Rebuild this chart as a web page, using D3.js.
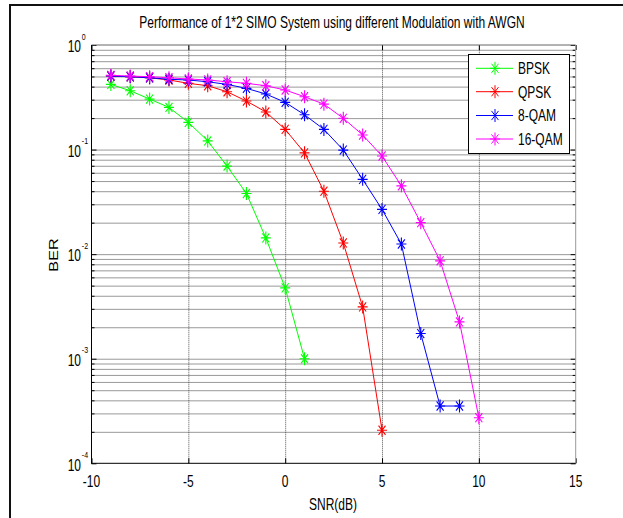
<!DOCTYPE html>
<html><head><meta charset="utf-8">
<script src="https://cdn.jsdelivr.net/npm/d3@7"></script>
<style>body{margin:0;background:#fff} svg{display:block}</style>
</head><body><svg id="c" width="623" height="518"></svg>
<script>
// ---- data ----
const snrBPSK  = [-9,-8,-7,-6,-5,-4,-3,-2,-1,0,1];
const berBPSK  = [0.42,0.365,0.304,0.253,0.182,0.121,0.0695,0.038,0.0143,0.00476,0.001];
const snrQPSK  = [-9,-8,-7,-6,-5,-4,-3,-2,-1,0,1,2,3,4,5];
const berQPSK  = [0.505,0.497,0.486,0.463,0.43,0.408,0.357,0.291,0.229,0.156,0.093,0.040,0.0128,0.00313,0.000207];
const snrQAM8  = [-9,-8,-7,-6,-5,-4,-3,-2,-1,0,1,2,3,4,5,6,7,8,9];
const berQAM8  = [0.505,0.497,0.486,0.47,0.463,0.445,0.42,0.385,0.34,0.283,0.215,0.156,0.0989,0.0519,0.0268,0.0125,0.00174,0.000353,0.000353];
const snrQAM16 = [-9,-8,-7,-6,-5,-4,-3,-2,-1,0,1,2,3,4,5,6,7,8,9,10];
const berQAM16 = [0.513,0.505,0.497,0.486,0.473,0.463,0.445,0.43,0.408,0.371,0.32,0.272,0.199,0.138,0.0867,0.045,0.020,0.00863,0.00225,0.000273];
const seriesNames  = ["BPSK","QPSK","8-QAM","16-QAM"];
const seriesColors = ["#00ff00","#ff0000","#0000ff","#ff00ff"];
const xTicks = [-10,-5,0,5,10,15];
const yExponents = [-4,-3,-2,-1,0];
const titleText = "Performance of 1*2 SIMO System using different Modulation with AWGN";
const xLabelText = "SNR(dB)";
const yLabelText = "BER";

// ---- layout ----
const svg = d3.select("#c");
const L=91.5, R=575.7, T=45, B=463.3;
const SY = 1.35; // vertical text stretch
const FONT = "Arial, 'Liberation Sans', Helvetica, sans-serif";
const x = d3.scaleLinear().domain([-10,15]).range([L,R]);
const y = d3.scaleLog().domain([1e-4,1]).range([B,T]);

const majorY = yExponents.map(e=>Math.pow(10,e));
const minorY = [];
yExponents.slice(0,-1).forEach(e=>{ for(let k=2;k<=9;k++) minorY.push(k*Math.pow(10,e)); });

// figure border (left + top)
svg.append("line").attr("x1",10).attr("x2",10).attr("y1",4).attr("y2",518).attr("stroke","#111").attr("stroke-width",2);
svg.append("line").attr("x1",9).attr("x2",623).attr("y1",5).attr("y2",5).attr("stroke","#111").attr("stroke-width",2);

// grid
const grid = svg.append("g");
grid.append("g").attr("transform",`translate(0,${B})`)
  .call(d3.axisBottom(x).tickValues(xTicks.slice(1,-1)).tickSize(-(B-T)).tickFormat(""))
  .call(g=>{g.select(".domain").remove(); g.selectAll("line").attr("stroke","#555").attr("stroke-dasharray","1,1");});
grid.append("g").attr("transform",`translate(${L},0)`)
  .call(d3.axisLeft(y).tickValues(minorY.concat(majorY.slice(1,-1))).tickSize(-(R-L)).tickFormat(""))
  .call(g=>{g.select(".domain").remove(); g.selectAll("line").attr("stroke","#333").attr("stroke-dasharray","1,1");});

// ticks (inside, mirrored)
function tickStyle(g){ g.select(".domain").remove(); g.selectAll("line").attr("stroke","#000"); }
svg.append("g").attr("transform",`translate(0,${B})`).call(d3.axisBottom(x).tickValues(xTicks).tickSize(-5).tickFormat("")).call(tickStyle);
svg.append("g").attr("transform",`translate(0,${T})`).call(d3.axisTop(x).tickValues(xTicks).tickSize(-5).tickFormat("")).call(tickStyle);
svg.append("g").attr("transform",`translate(${L},0)`).call(d3.axisLeft(y).tickValues(majorY).tickSize(-5).tickFormat("")).call(tickStyle);
svg.append("g").attr("transform",`translate(${L},0)`).call(d3.axisLeft(y).tickValues(minorY).tickSize(-3).tickFormat("")).call(tickStyle);
svg.append("g").attr("transform",`translate(${R},0)`).call(d3.axisRight(y).tickValues(majorY).tickSize(-5).tickFormat("")).call(tickStyle);
svg.append("g").attr("transform",`translate(${R},0)`).call(d3.axisRight(y).tickValues(minorY).tickSize(-3).tickFormat("")).call(tickStyle);

// axes box
svg.append("line").attr("x1",L).attr("x2",R).attr("y1",T).attr("y2",T).attr("stroke","#666");
svg.append("line").attr("x1",R).attr("x2",R).attr("y1",T).attr("y2",B).attr("stroke","#999");
svg.append("line").attr("x1",L).attr("x2",L).attr("y1",T).attr("y2",B+0.5).attr("stroke","#000");
svg.append("line").attr("x1",L).attr("x2",R).attr("y1",B).attr("y2",B).attr("stroke","#000");

function txt(parent, s, px, py, size, anchor, sx, sy){
  return parent.append("text").attr("transform",`translate(${px},${py}) scale(${sx||1},${sy||SY})`)
    .attr("font-family",FONT).attr("font-size",size).attr("text-anchor",anchor||"start").attr("fill","#000").text(s);
}

// x tick labels
xTicks.forEach(v=>txt(svg, String(v), x(v), 487, 12, "middle"));
// y tick labels 10^e
yExponents.forEach(e=>{
  const yy = y(Math.pow(10,e));
  txt(svg, "10", 81, yy+7.3, 12, "end");
  txt(svg, String(e), 81.8, yy-5.5, 7, "start");
});

// labels
txt(svg, titleText, 332, 28, 12, "middle");
txt(svg, xLabelText, 333, 510, 12, "middle");
svg.append("text").attr("transform",`translate(58,255) rotate(-90) scale(${SY},1)`)
  .attr("font-family",FONT).attr("font-size",12).attr("text-anchor","middle").text(yLabelText);

// series
const series = [
  {snr:snrBPSK, ber:berBPSK},
  {snr:snrQPSK, ber:berQPSK},
  {snr:snrQAM8, ber:berQAM8},
  {snr:snrQAM16, ber:berQAM16}
];
const line = d3.line().x(d=>x(d[0])).y(d=>y(d[1]));
const star = "M-5,0H5M0,-6.5V6.5M-3.5,-4.6L3.5,4.6M-3.5,4.6L3.5,-4.6";
const plot = svg.append("g");
series.forEach((s,i)=>{
  const pts = s.snr.map((v,j)=>[v,s.ber[j]]);
  plot.append("path").attr("d",line(pts)).attr("fill","none").attr("stroke",seriesColors[i]).attr("stroke-width",1);
  plot.selectAll(null).data(pts).enter().append("path")
    .attr("transform",d=>`translate(${x(d[0])},${y(d[1])})`)
    .attr("d",star).attr("fill","none").attr("stroke",seriesColors[i]).attr("stroke-width",1.1);
});

// legend
const lg = svg.append("g");
lg.append("rect").attr("x",468.5).attr("y",54.5).attr("width",101).attr("height",99).attr("fill","#fff").attr("stroke","#000");
const rowY = [68.3,91.7,115.5,139];
seriesNames.forEach((n,i)=>{
  lg.append("line").attr("x1",476).attr("x2",513).attr("y1",rowY[i]).attr("y2",rowY[i]).attr("stroke",seriesColors[i]);
  lg.append("path").attr("transform",`translate(495,${rowY[i]})`).attr("d",star).attr("fill","none").attr("stroke",seriesColors[i]);
  txt(lg, n, 518, rowY[i]+5.8, 12, "start");
});
</script></body></html>
